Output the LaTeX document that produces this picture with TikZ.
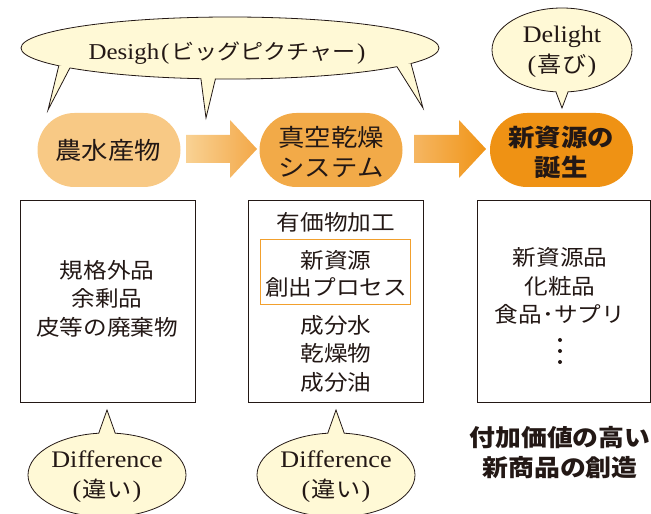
\documentclass[tikz,border=0pt]{standalone}
\usepackage{fontspec}
\setmainfont{Noto Sans CJK JP}[FakeStretch=1.1]
\newfontfamily\lat{Liberation Serif}[FakeStretch=1.1,Scale=1.08]
\usetikzlibrary{calc,shapes.geometric}
\definecolor{cream}{RGB}{255,249,214}
\definecolor{orA}{RGB}{248,201,133}
\definecolor{orB}{RGB}{242,170,72}
\definecolor{orC}{RGB}{239,146,20}
\definecolor{ink}{RGB}{35,24,21}
\definecolor{oline}{RGB}{242,160,45}
\definecolor{arAl}{RGB}{249,210,148}
\definecolor{arAr}{RGB}{243,168,72}
\definecolor{arBl}{RGB}{245,182,98}
\definecolor{arBr}{RGB}{240,148,22}
\newcommand{\lp}{{\lat(}\hspace{1.5pt}}
\newcommand{\rp}{\hspace{1.5pt}{\lat)}}
\begin{document}
\begin{tikzpicture}[x=1pt,y=1pt,
  bubble/.style={ellipse, draw=ink, line width=0.8pt, fill=cream, inner sep=0pt},
  tailside/.style={draw=ink, line width=0.8pt, line join=miter},
  stadium/.style={rounded corners=37pt, minimum width=143pt, minimum height=74pt, inner sep=0pt},
  framebox/.style={draw=ink, line width=0.9pt},
  txt/.style={text=ink, align=center, inner sep=0pt, font=\fontsize{21.5}{28.5}\selectfont},
  btxt/.style={text=ink, align=center, inner sep=0pt, font=\fontsize{22}{30}\selectfont},
  stxt/.style={text=ink, align=center, inner sep=0pt, font=\fontsize{24}{30}\selectfont}
]
\useasboundingbox (0,0) rectangle (651,514);

% ---------- big Desigh bubble ----------
\node[bubble, minimum width=418pt, minimum height=62pt] (des) at (230,466) {};
\coordinate (tl) at (48,404);
\coordinate (tm) at (206,396);
\coordinate (tr) at (423,406);
\coordinate (la) at ($(des.center)+(215:209pt and 31pt)$);
\coordinate (lb) at ($(des.center)+(220:209pt and 31pt)$);
\coordinate (li) at ($(des.center)+(217.5:200pt and 26pt)$);
\coordinate (ma) at ($(des.center)+(262:209pt and 31pt)$);
\coordinate (mb) at ($(des.center)+(266:209pt and 31pt)$);
\coordinate (mi) at ($(des.center)+(264:200pt and 26pt)$);
\coordinate (ra) at ($(des.center)+(323:209pt and 31pt)$);
\coordinate (rb) at ($(des.center)+(330:209pt and 31pt)$);
\coordinate (ri) at ($(des.center)+(326.5:200pt and 26pt)$);
\fill[cream] (la) -- (tl) -- (lb) -- (li) -- cycle;
\fill[cream] (ma) -- (tm) -- (mb) -- (mi) -- cycle;
\fill[cream] (ra) -- (tr) -- (rb) -- (ri) -- cycle;
\draw[tailside] (la) -- (tl) -- (lb);
\draw[tailside] (ma) -- (tm) -- (mb);
\draw[tailside] (ra) -- (tr) -- (rb);
\node[btxt, font=\fontsize{21}{30}\selectfont] (destxt) at (227,461) {{\lat Desigh}\hspace{2pt}\lp ビッグピクチャー\rp};

% ---------- Delight bubble ----------
\node[bubble, minimum width=140pt, minimum height=84pt] (del) at (562,464) {};
\coordinate (td) at (562,406);
\coordinate (da) at ($(del.center)+(265:70pt and 42pt)$);
\coordinate (db) at ($(del.center)+(275:70pt and 42pt)$);
\coordinate (di) at ($(del.center)+(270:62pt and 36pt)$);
\fill[cream] (da) -- (td) -- (db) -- (di) -- cycle;
\draw[tailside] (da) -- (td) -- (db);
\node[btxt] (deltxt) at (562,462) {{\lat Delight}\\\lp 喜び\rp};

% ---------- stadium boxes ----------
\node[stadium, fill=orA] (s1) at (109,364) {};
\node[stadium, fill=orB] (s2) at (331,364) {};
\node[stadium, fill=orC] (s3) at (561.5,364) {};
\node[stxt] (s1t) at (108,364) {農水産物};
\node[stxt] (s2t) at (331,362) {真空乾燥\\システム};
\node[stxt, font=\fontsize{24}{30}\selectfont\bfseries] (s3t) at (561,362) {新資源の\\誕生};

% ---------- arrows ----------
\shade[left color=arAl, right color=arAr]
  (186,351) -- (230,351) -- (230,336) -- (257,365) -- (230,394) -- (230,379) -- (186,379) -- cycle;
\shade[left color=arBl, right color=arBr]
  (414,351) -- (459,351) -- (459,336) -- (486,365) -- (459,394) -- (459,379) -- (414,379) -- cycle;

% ---------- rectangles ----------
\node[framebox, minimum width=175pt, minimum height=202pt, inner sep=0pt] (b1) at (107.5,213) {};
\node[framebox, minimum width=175pt, minimum height=202pt, inner sep=0pt] (b2) at (335.5,213) {};
\node[framebox, minimum width=173pt, minimum height=202pt, inner sep=0pt] (b3) at (563.5,213) {};
\node[draw=oline, line width=0.9pt, minimum width=150pt, minimum height=65pt, inner sep=0pt] (ob) at (335,242.5) {};

\node[txt] (b1t) at (107,215.5) {規格外品\\余剰品\\皮等の廃棄物};
\node[txt] (b2a) at (336,292) {有価物加工};
\node[txt, font=\fontsize{21.5}{27}\selectfont] (b2b) at (336,240.5) {新資源\\創出プロセス};
\node[txt] (b2c) at (336,160.5) {成分水\\乾燥物\\成分油};
\node[txt] (b3t) at (560,228) {新資源品\\化粧品\\食品･サプリ};
\fill[ink] (560,174) circle (2pt) (560,163) circle (2pt) (560,152) circle (2pt);

\node[stxt, font=\fontsize{23.5}{30}\selectfont\bfseries] (cap) at (560,61) {付加価値の高い\\新商品の創造};

% ---------- Difference bubbles ----------
\node[bubble, minimum width=158pt, minimum height=84pt] (df1) at (107,39) {};
\node[bubble, minimum width=158pt, minimum height=84pt] (df2) at (336,39) {};
\coordinate (t1) at (107,104);
\coordinate (t2) at (336,104);
\coordinate (a1) at ($(df1.center)+(96:79pt and 42pt)$);
\coordinate (c1) at ($(df1.center)+(84:79pt and 42pt)$);
\coordinate (i1) at ($(df1.center)+(90:70pt and 36pt)$);
\coordinate (a2) at ($(df2.center)+(96:79pt and 42pt)$);
\coordinate (c2) at ($(df2.center)+(84:79pt and 42pt)$);
\coordinate (i2) at ($(df2.center)+(90:70pt and 36pt)$);
\fill[cream] (a1) -- (t1) -- (c1) -- (i1) -- cycle;
\fill[cream] (a2) -- (t2) -- (c2) -- (i2) -- cycle;
\draw[tailside] (a1) -- (t1) -- (c1);
\draw[tailside] (a2) -- (t2) -- (c2);
\node[btxt] (df1t) at (107,37) {{\lat Difference}\\\lp 違い\rp};
\node[btxt] (df2t) at (336,37) {{\lat Difference}\\\lp 違い\rp};
\end{tikzpicture}
\end{document}
